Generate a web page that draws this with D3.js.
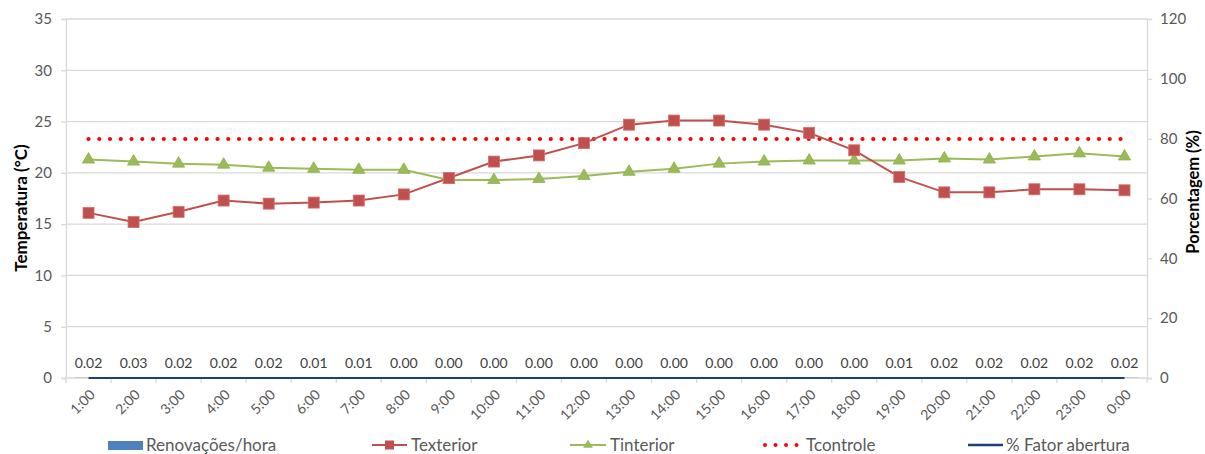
<!DOCTYPE html>
<html>
<head>
<meta charset="utf-8">
<script src="https://cdn.jsdelivr.net/npm/d3@7"></script>
<style>
  html, body { margin: 0; padding: 0; background: #fff; }
  svg { display: block; font-family: Lato, "Liberation Sans", sans-serif; }
</style>
</head>
<body>
<svg id="chart" width="1205" height="454"></svg>
<script>
// Hourly readings
const hours = ["1:00","2:00","3:00","4:00","5:00","6:00","7:00","8:00","9:00","10:00","11:00","12:00",
               "13:00","14:00","15:00","16:00","17:00","18:00","19:00","20:00","21:00","22:00","23:00","0:00"];
const renovacoes = [0.02,0.03,0.02,0.02,0.02,0.01,0.01,0.00,0.00,0.00,0.00,0.00,
                    0.00,0.00,0.00,0.00,0.00,0.00,0.01,0.02,0.02,0.02,0.02,0.02];
const texterior = [16.1,15.2,16.2,17.3,17.0,17.1,17.3,17.9,19.5,21.1,21.7,22.9,
                   24.7,25.1,25.1,24.7,23.9,22.2,19.6,18.1,18.1,18.4,18.4,18.3];
const tinterior = [21.3,21.1,20.9,20.8,20.5,20.4,20.3,20.3,19.3,19.3,19.4,19.7,
                   20.1,20.4,20.9,21.1,21.2,21.2,21.2,21.4,21.3,21.6,21.9,21.6];
const tcontrole = hours.map(() => 23.3);
const fatorAbertura = [0,0,0,0,0,0,0,0,0,0,0,0,0,0,0,0,0,0,0,0,0,0,0,0];
const tempTicks = [0,5,10,15,20,25,30,35];
const pctTicks = [0,20,40,60,80,100,120];

const svg = d3.select("#chart");
const plotLeft = 66, plotRight = 1147, plotTop = 19, plotBottom = 378;

const x = d3.scaleBand().domain(hours).range([plotLeft, plotRight]);
const yT = d3.scaleLinear().domain([0, 35]).range([plotBottom, plotTop]);
const yP = d3.scaleLinear().domain([0, 120]).range([plotBottom, plotTop]);
const cx = d => x(d) + x.bandwidth() / 2;

const textCol = "#595959";
const gridCol = "#d9d9d9";

// horizontal gridlines
svg.append("g").selectAll("line").data(tempTicks.filter(t => t > 0)).join("line")
  .attr("x1", plotLeft).attr("x2", plotRight)
  .attr("y1", d => yT(d)).attr("y2", d => yT(d))
  .attr("stroke", gridCol).attr("stroke-width", 1.3);

// left axis
const gL = svg.append("g").attr("transform", `translate(${plotLeft},0)`)
  .call(d3.axisLeft(yT).tickValues(tempTicks).tickSize(5).tickPadding(9));
gL.select(".domain").attr("stroke", gridCol).attr("stroke-width", 1.3);
gL.selectAll(".tick line").attr("stroke", gridCol).attr("stroke-width", 1.3);
gL.selectAll("text").attr("fill", textCol).style("font-size", "15px").style("font-family", "Lato, sans-serif");

// right axis
const gR = svg.append("g").attr("transform", `translate(${plotRight},0)`)
  .call(d3.axisRight(yP).tickValues(pctTicks).tickSize(5).tickPadding(8));
gR.select(".domain").attr("stroke", gridCol).attr("stroke-width", 1.3);
gR.selectAll(".tick line").attr("stroke", gridCol).attr("stroke-width", 1.3);
gR.selectAll("text").attr("fill", textCol).style("font-size", "15px").style("font-family", "Lato, sans-serif");

// bottom axis with ticks between categories
const gB = svg.append("g").attr("transform", `translate(0,${plotBottom})`);
gB.append("line").attr("x1", plotLeft).attr("x2", plotRight).attr("y1", 0).attr("y2", 0)
  .attr("stroke", gridCol).attr("stroke-width", 1.3);
gB.selectAll("line.tk").data(hours.concat(["end"])).join("line").attr("class", "tk")
  .attr("x1", (d, i) => plotLeft + i * x.bandwidth()).attr("x2", (d, i) => plotLeft + i * x.bandwidth())
  .attr("y1", 0).attr("y2", 5).attr("stroke", gridCol).attr("stroke-width", 1.3);
gB.selectAll("text").data(hours).join("text")
  .attr("transform", d => `translate(${cx(d) + 4},${14}) rotate(-45)`)
  .attr("text-anchor", "end").attr("dy", "0.35em")
  .attr("fill", textCol).style("font-size", "14px")
  .text(d => d);

// bars (renovações/hora) and their labels
svg.append("g").selectAll("rect").data(renovacoes).join("rect")
  .attr("x", (d, i) => x(hours[i]) + x.bandwidth() * 0.2)
  .attr("width", x.bandwidth() * 0.6)
  .attr("y", d => yT(d)).attr("height", d => plotBottom - yT(d))
  .attr("fill", "#4f81bd");
svg.append("g").selectAll("text").data(renovacoes).join("text")
  .attr("x", (d, i) => cx(hours[i])).attr("y", d => yT(d) - 10)
  .attr("text-anchor", "middle").attr("fill", "#404040").style("font-size", "14px")
  .text(d => d.toFixed(2));

// % fator abertura (right axis)
svg.append("path").datum(fatorAbertura)
  .attr("d", d3.line().x((d, i) => cx(hours[i])).y(d => yP(d)))
  .attr("fill", "none").attr("stroke", "#1f3d7a").attr("stroke-width", 2.2);

// Tcontrole dotted line
svg.append("path").datum(tcontrole)
  .attr("d", d3.line().x((d, i) => cx(hours[i])).y(d => yT(d)))
  .attr("fill", "none").attr("stroke", "#ff0000").attr("stroke-width", 4.2)
  .attr("stroke-linecap", "round").attr("stroke-dasharray", "0,10.75");

// Tinterior
svg.append("path").datum(tinterior)
  .attr("d", d3.line().x((d, i) => cx(hours[i])).y(d => yT(d)))
  .attr("fill", "none").attr("stroke", "#9bbb59").attr("stroke-width", 2);
const tri = d3.symbol().type(d3.symbolTriangle).size(64);
svg.append("g").selectAll("path").data(tinterior).join("path")
  .attr("transform", (d, i) => `translate(${cx(hours[i])},${yT(d)})`)
  .attr("d", tri()).attr("fill", "#9bbb59").attr("stroke", "#8eb04a").attr("stroke-width", 0.8);

// Texterior
svg.append("path").datum(texterior)
  .attr("d", d3.line().x((d, i) => cx(hours[i])).y(d => yT(d)))
  .attr("fill", "none").attr("stroke", "#c0504d").attr("stroke-width", 2);
svg.append("g").selectAll("rect").data(texterior).join("rect")
  .attr("x", (d, i) => cx(hours[i]) - 5.5).attr("y", d => yT(d) - 5.5)
  .attr("width", 11).attr("height", 11)
  .attr("fill", "#c0504d").attr("stroke", "#d46f6c").attr("stroke-width", 0.8);

// axis titles
svg.append("text").attr("transform", `translate(27,208) rotate(-90)`)
  .attr("text-anchor", "middle").attr("font-weight", "bold").attr("fill", "#000")
  .style("font-size", "17px").text("Temperatura (°C)");
svg.append("text").attr("transform", `translate(1199,192) rotate(-90)`)
  .attr("text-anchor", "middle").attr("font-weight", "bold").attr("fill", "#000")
  .style("font-size", "16.5px").text("Porcentagem (%)");

// legend
const ly = 445;
const lg = svg.append("g").style("font-size", "17px").attr("fill", textCol);
lg.append("rect").attr("x", 108).attr("y", ly - 4).attr("width", 35).attr("height", 9).attr("fill", "#4f81bd");
lg.append("text").attr("x", 146).attr("y", ly).attr("dy", "0.35em").text("Renovações/hora");

lg.append("line").attr("x1", 372).attr("x2", 407).attr("y1", ly).attr("y2", ly).attr("stroke", "#c0504d").attr("stroke-width", 2);
lg.append("rect").attr("x", 385).attr("y", ly - 4.5).attr("width", 9).attr("height", 9).attr("fill", "#c0504d");
lg.append("text").attr("x", 411).attr("y", ly).attr("dy", "0.35em").text("Texterior");

lg.append("line").attr("x1", 570).attr("x2", 606).attr("y1", ly).attr("y2", ly).attr("stroke", "#9bbb59").attr("stroke-width", 2);
lg.append("path").attr("transform", `translate(588,${ly})`).attr("d", d3.symbol().type(d3.symbolTriangle).size(40)()).attr("fill", "#9bbb59");
lg.append("text").attr("x", 610).attr("y", ly).attr("dy", "0.35em").text("Tinterior");

lg.append("line").attr("x1", 765).attr("x2", 800).attr("y1", ly).attr("y2", ly)
  .attr("stroke", "#ff0000").attr("stroke-width", 4).attr("stroke-linecap", "round").attr("stroke-dasharray", "0,10.5");
lg.append("text").attr("x", 806).attr("y", ly).attr("dy", "0.35em").text("Tcontrole");

lg.append("line").attr("x1", 968).attr("x2", 1003).attr("y1", ly).attr("y2", ly).attr("stroke", "#1f3d7a").attr("stroke-width", 2.5);
lg.append("text").attr("x", 1006).attr("y", ly).attr("dy", "0.35em").text("% Fator abertura");
</script>
</body>
</html>
